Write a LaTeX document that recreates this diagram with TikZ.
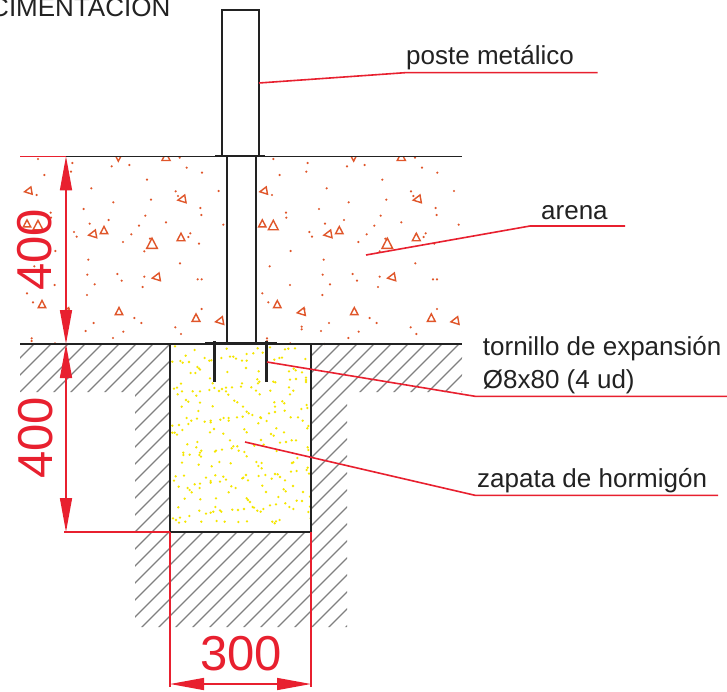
\documentclass[tikz,border=0pt]{standalone}
\usepackage{fontspec}
\setmainfont{Liberation Sans}
\usetikzlibrary{arrows.meta}
\definecolor{dimred}{HTML}{E8202F}
\definecolor{sandor}{HTML}{E0562A}
\definecolor{concy}{HTML}{F5E600}
\definecolor{hatchg}{HTML}{808080}
\definecolor{ink}{HTML}{222222}
\tikzset{
  outline/.style={draw=ink,line width=1.5pt},
  bolt/.style={draw=ink,line width=3pt},
  leader/.style={draw=dimred,line width=1.6pt},
  dimline/.style={draw=dimred,line width=1.5pt},
  dimarrow/.style={dimline,{Triangle[length=34pt,width=12pt,fill=dimred]}-{Triangle[length=34pt,width=12pt,fill=dimred]}},
  hatchline/.style={draw=hatchg,line width=1.2pt},
  label/.style={inner sep=0pt,text=ink,font=\fontsize{26}{30}\selectfont},
  dimlabel/.style={inner sep=0pt,text=dimred,font=\fontsize{49}{54}\selectfont},
}
\newcommand{\sandtri}[4]{%
  \draw[sandor,line width=1.4pt,line join=miter,shift={({#1/3},{140+#2/3})},rotate=#4]
    (270:#3) -- (145:#3) -- (35:#3) -- cycle;}
\begin{document}
\begin{tikzpicture}[x=1pt,y=-1pt]
\useasboundingbox (0,0) rectangle (727,692);
\clip (0,0) rectangle (727,692);
\fill[white] (0,0) rectangle (727,692);
% hatching of the ground
\begin{scope}
  \clip (20,344) -- (170,344) -- (170,532) -- (311,532) -- (311,344) -- (462,344)
    -- (462,392) -- (347,392) -- (347,627) -- (135,627) -- (135,392) -- (20,392) -- cycle;
  \foreach \k in {-25,...,13}{
    \pgfmathsetmacro{\c}{769+17*\k}
    \draw[hatchline] ({\c-300},300) -- ({\c-660},660);
  }
\end{scope}
% sand tile, repeated on both sides of the post
\foreach \off/\xa/\xb in {0/20/227,235.3/256/462}{
  \begin{scope}
    \clip (\xa,157) rectangle (\xb,345);
    \begin{scope}[xshift=\off pt]
    \foreach \a/\b in {114/57,217/69,335/79,388/75,539/53,560/83,606/98,133/105,213/95,441/119,110/165,274/145,527/154,534/168,656/153,340/187,453/179,251/207,601/204,604/225,152/218,153/233,436/227,326/240,269/251,417/257,498/247,670/254,222/276,230/290,394/283,369/306,450/296,433/334,571/280,565/291,597/311,166/333,265/359,103/379,540/370,262/404,352/402,365/422,433/410,284/433,428/441,593/418,605/418,164/435,81/460,261/465,99/487,605/507,403/534,424/549,281/549,257/573,370/575,339/594,526/562,543/582,95/595,95/603,199/560,199/568,207/507,165/610,267/612}{
      \fill[sandor] ({\a/3},{140+\b/3}) circle (1.2pt);
    }
    \sandtri{87}{153}{4.5}{100}
    \sandtri{355}{50}{4.5}{180}
    \sandtri{498}{53}{5}{0}
    \sandtri{548}{178}{4.8}{100}
    \sandtri{81}{253}{4.5}{0}
    \sandtri{114}{259}{6}{0}
    \sandtri{280}{283}{4.8}{100}
    \sandtri{312}{273}{4.5}{0}
    \sandtri{456}{314}{6.5}{0}
    \sandtri{543}{294}{4.8}{0}
    \sandtri{471}{412}{4.8}{100}
    \sandtri{126}{495}{4.5}{0}
    \sandtri{200}{516}{4.8}{100}
    \sandtri{357}{516}{4.5}{0}
    \sandtri{588}{536}{4.8}{0}
    \sandtri{661}{543}{4.8}{100}
    \end{scope}
  \end{scope}
}
% concrete speckle
\foreach \a/\b in {165/49,224/60,320/56,413/55,450/52,495/58,505/56,525/55,197/77,254/84,268/92,274/91,304/84,330/80,340/80,348/86,366/92,380/72,380/92,400/70,428/68,463/89,478/84,486/83,556/87,157/95,181/93,188/98,207/96,232/111,237/115,378/114,416/124,507/124,521/116,527/121,546/127,212/129,226/129,240/119,322/126,270/145,278/160,412/148,418/155,414/160,460/155,466/157,510/149,528/147,558/143,558/150,558/156,183/161,162/176,171/173,186/184,218/184,240/184,173/193,229/197,268/180,283/174,297/183,306/177,318/173,318/184,336/172,325/194,366/160,363/170,394/172,408/182,419/193,451/182,507/172,520/182,510/193,198/210,205/215,240/218,185/230,278/229,343/212,352/217,369/230,380/245,386/250,397/255,463/217,487/214,493/220,465/230,560/225,562/234,544/237,235/243,447/250,465/246,494/242,200/264,214/272,231/266,254/275,272/272,272/277,301/269,311/264,326/264,326/272,351/262,368/260,421/262,423/264,440/273,512/262,534/262,548/272,415/280,157/287,177/285,205/282,187/300,565/288,562/295,270/307,282/297,373/298,380/307,469/295,157/308,164/308,171/314,310/311,453/312,461/317,492/307,330/331,423/330,480/338,498/336,515/331,528/331,202/343,232/336,229/352,244/362,340/349,352/349,335/355,403/347,431/344,563/352,565/360,190/368,190/375,209/374,240/368,238/375,243/380,285/365,288/362,306/359,356/362,373/366,380/379,470/363,532/384,186/398,236/404,275/409,298/396,332/400,409/396,425/399,415/408,425/415,520/397,516/399,513/425,530/423,563/413,560/420,567/431,167/439,192/437,258/443,286/436,310/440,318/449,300/455,272/453,272/458,370/443,378/435,367/445,384/451,416/438,436/435,455/446,465/432,473/433,480/441,495/451,162/452,176/470,203/474,209/480,215/487,224/463,240/461,239/474,334/469,347/474,326/487,427/467,438/486,491/478,497/484,519/468,549/486,241/508,194/506,288/505,380/505,384/510,390/516,475/501,450/526,468/523,496/520,508/531,520/537,530/512,546/513,570/500,175/532,286/531,238/542,258/551,272/548,280/545,300/541,304/545,337/539,354/540,372/537,398/531,402/533,412/542,422/545,430/537,565/546,159/565,168/570,177/578,180/563,196/575,208/558,244/575,290/573,314/575,355/576,381/574,457/575,464/580,468/574,479/570,572/565,570/530}{
  \fill[concy] ({120+\a/3},{330+\b/3}) circle (1.3pt);
}
% ground, post, footing
\draw[outline] (20,156.3) -- (462,156.3);
\draw[outline] (20,344) -- (462,344);
\draw[outline,line width=1.8pt] (170,344) -- (170,532) -- (311,532) -- (311,344);
\draw[outline,fill=white] (222,10) rectangle (259,156.3);
\draw[outline] (227,156.3) -- (227,343);
\draw[outline] (256,156.3) -- (256,343);
\draw[outline,line width=2pt] (215,156.3) -- (265,156.3);
% plate and bolts
\draw[bolt] (205,343.5) -- (277,343.5);
\draw[bolt] (214.7,341) -- (214.7,382);
\draw[bolt] (266,341) -- (266,382);
% dimension lines
\coordinate (dimA) at (66,156.3);
\coordinate (dimB) at (66,344);
\coordinate (dimC) at (66,532);
\coordinate (dimD) at (170,684);
\coordinate (dimE) at (311,684);
\coordinate (extA) at (20,156.3);
\coordinate (extC) at (64,532);
\coordinate (extF) at (170,532);
\coordinate (extG) at (311,532);
\coordinate (extH) at (170,687);
\coordinate (extI) at (311,687);
\draw[dimline] (extA) -- (dimA);
\draw[dimline] (extC) -- (extF);
\draw[dimline] (extF) -- (extH);
\draw[dimline] (extG) -- (extI);
\draw[dimarrow] (dimA) -- (dimB);
\draw[dimarrow] (dimB) -- (dimC);
\draw[dimarrow] (dimD) -- (dimE);
\node[dimlabel,rotate=90] (dimTextA) at (35,250) {400};
\node[dimlabel,rotate=90] (dimTextB) at (36,438) {400};
\node[dimlabel] (dimTextC) at (241,654) {300};
% labels
\node[label,anchor=base east] (title) at (170.5,16.5) {CIMENTACION};
\node[label,anchor=base west] (poste) at (406,65) {poste metálico};
\node[label,anchor=base west] (arena) at (541,220) {arena};
\node[label,anchor=base west] (tornillo) at (482.7,355.7) {tornillo de expansión};
\node[label,anchor=base west] (tornilloB) at (482.7,388.5) {Ø8x80 (4 ud)};
\node[label,anchor=base west] (zapata) at (477,487.7) {zapata de hormigón};
% leaders
\coordinate (lpA) at (259,83); \coordinate (lpB) at (405,72.7); \coordinate (lpC) at (597.7,72.7);
\coordinate (laA) at (366,255); \coordinate (laB) at (530,226); \coordinate (laC) at (625,226);
\coordinate (ltA) at (267,362); \coordinate (ltB) at (475,396.3); \coordinate (ltC) at (727,396.3);
\coordinate (lzA) at (245,442); \coordinate (lzB) at (475,495.3); \coordinate (lzC) at (718,495.3);
\draw[leader] (lpA) -- (lpB) -- (lpC);
\draw[leader] (laA) -- (laB) -- (laC);
\draw[leader] (ltA) -- (ltB) -- (ltC);
\draw[leader] (lzA) -- (lzB) -- (lzC);
\end{tikzpicture}
\end{document}
